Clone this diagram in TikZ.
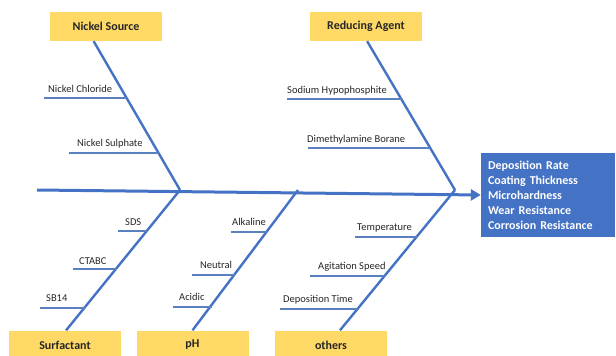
\documentclass[tikz,border=0pt]{standalone}
\usepackage{fontspec}
\setmainfont{Carlito}
\usetikzlibrary{calc,arrows.meta}
\definecolor{fbblue}{HTML}{4472C4}
\definecolor{fbbranch}{HTML}{5B80C0}
\definecolor{fbyellow}{HTML}{FFD966}
\definecolor{fbtext}{HTML}{262626}
\tikzset{
  cat/.style={fill=fbyellow, minimum width=112pt, minimum height=29pt, inner sep=0pt,
    font=\fontsize{12}{14}\selectfont\bfseries, text=fbtext},
  bone/.style={draw=fbblue, line width=2.4pt},
  spine/.style={draw=fbblue, line width=3pt},
  branch/.style={draw=fbbranch, line width=1.3pt},
  lab/.style={anchor=base west, inner sep=0pt, font=\fontsize{10.5}{12}\selectfont, text=fbtext},
  outbox/.style={fill=fbblue, text=white, minimum width=134pt, minimum height=84pt,
    text width=120pt, inner xsep=7pt, inner ysep=0pt, align=left,
    font=\fontsize{12}{15}\selectfont\bfseries}
}
\begin{document}
\begin{tikzpicture}[x=1pt,y=-1pt]
\useasboundingbox (0,0) rectangle (616,356);
\begin{scope}
\clip (0,0) rectangle (616,356);
% category boxes
\node[cat] (ns) at (106,26.5) {Nickel Source};
\node[cat] (ra) at (366,26.5) {Reducing Agent};
\node[cat] (sf) at (65,345) {Surfactant};
\node[cat] (ph) at (192.5,345) {pH};
\node[cat] (ot) at (331,345) {others};
\end{scope}
% output
\node[outbox] (out) at (548,195) {Deposition Rate\\Coating Thickness\\Microhardness\\Wear Resistance\\Corrosion Resistance};
% spine
\coordinate (s0) at (37,190);
\coordinate (j1) at (180,190);
\coordinate (j2) at (298,190);
\coordinate (j3) at (455,190);
\draw[spine, -{Triangle[length=10pt,width=11pt]}] (s0) -- (out.west);
% bones
\coordinate (nsb) at ($(ns.south west)!0.39!(ns.south east)$);
\coordinate (rab) at ($(ra.south west)!0.51!(ra.south east)$);
\coordinate (sft) at ($(sf.north west)!0.51!(sf.north east)$);
\coordinate (pht) at ($(ph.north west)!0.5!(ph.north east)$);
\coordinate (ott) at ($(ot.north west)!0.58!(ot.north east)$);
\draw[bone] (nsb) -- (j1);
\draw[bone] (rab) -- (j3);
\draw[bone] (sft) -- (j1);
\draw[bone] (pht) -- (j2);
\draw[bone] (ott) -- (j3);
% branches: Nickel Source
\coordinate (a1) at (44,98);  \coordinate (b1) at (127,98);
\coordinate (a2) at (69,153); \coordinate (b2) at (158.6,153);
\draw[branch] (a1) -- (b1);
\draw[branch] (a2) -- (b2);
\node[lab] (l1) at (48,92.5) {Nickel Chloride};
\node[lab] (l2) at (77,146) {Nickel Sulphate};
% Reducing agent
\coordinate (a3) at (287,99);  \coordinate (b3) at (401.5,99);
\coordinate (a4) at (308,148); \coordinate (b4) at (430,148);
\draw[branch] (a3) -- (b3);
\draw[branch] (a4) -- (b4);
\node[lab] (l3) at (287,93.5) {Sodium Hypophosphite};
\node[lab] (l4) at (307,142.5) {Dimethylamine Borane};
% Surfactant
\coordinate (a5) at (118,231); \coordinate (b5) at (147,231);
\coordinate (a6) at (73,269);  \coordinate (b6) at (116.6,269);
\coordinate (a7) at (40,308);  \coordinate (b7) at (85.2,308);
\draw[branch] (a5) -- (b5);
\draw[branch] (a6) -- (b6);
\draw[branch] (a7) -- (b7);
\node[lab] (l5) at (125,225) {SDS};
\node[lab] (l6) at (79,264) {CTABC};
\node[lab] (l7) at (46,301) {SB14};
% pH
\coordinate (a8) at (231,232);  \coordinate (b8) at (267,232);
\coordinate (a9) at (192,275);  \coordinate (b9) at (235.2,275);
\coordinate (a10) at (173,307); \coordinate (b10) at (211.5,307);
\draw[branch] (a8) -- (b8);
\draw[branch] (a9) -- (b9);
\draw[branch] (a10) -- (b10);
\node[lab] (l8) at (232,225.5) {Alkaline};
\node[lab] (l9) at (200,268.5) {Neutral};
\node[lab] (l10) at (179,300) {Acidic};
% others
\coordinate (a11) at (355,237); \coordinate (b11) at (417,237);
\coordinate (a12) at (310,276); \coordinate (b12) at (385.3,276);
\coordinate (a13) at (280,309); \coordinate (b13) at (358.6,309);
\draw[branch] (a11) -- (b11);
\draw[branch] (a12) -- (b12);
\draw[branch] (a13) -- (b13);
\node[lab] (l11) at (357,230.5) {Temperature};
\node[lab] (l12) at (318,269.5) {Agitation Speed};
\node[lab] (l13) at (283,302) {Deposition Time};
\end{tikzpicture}
\end{document}
